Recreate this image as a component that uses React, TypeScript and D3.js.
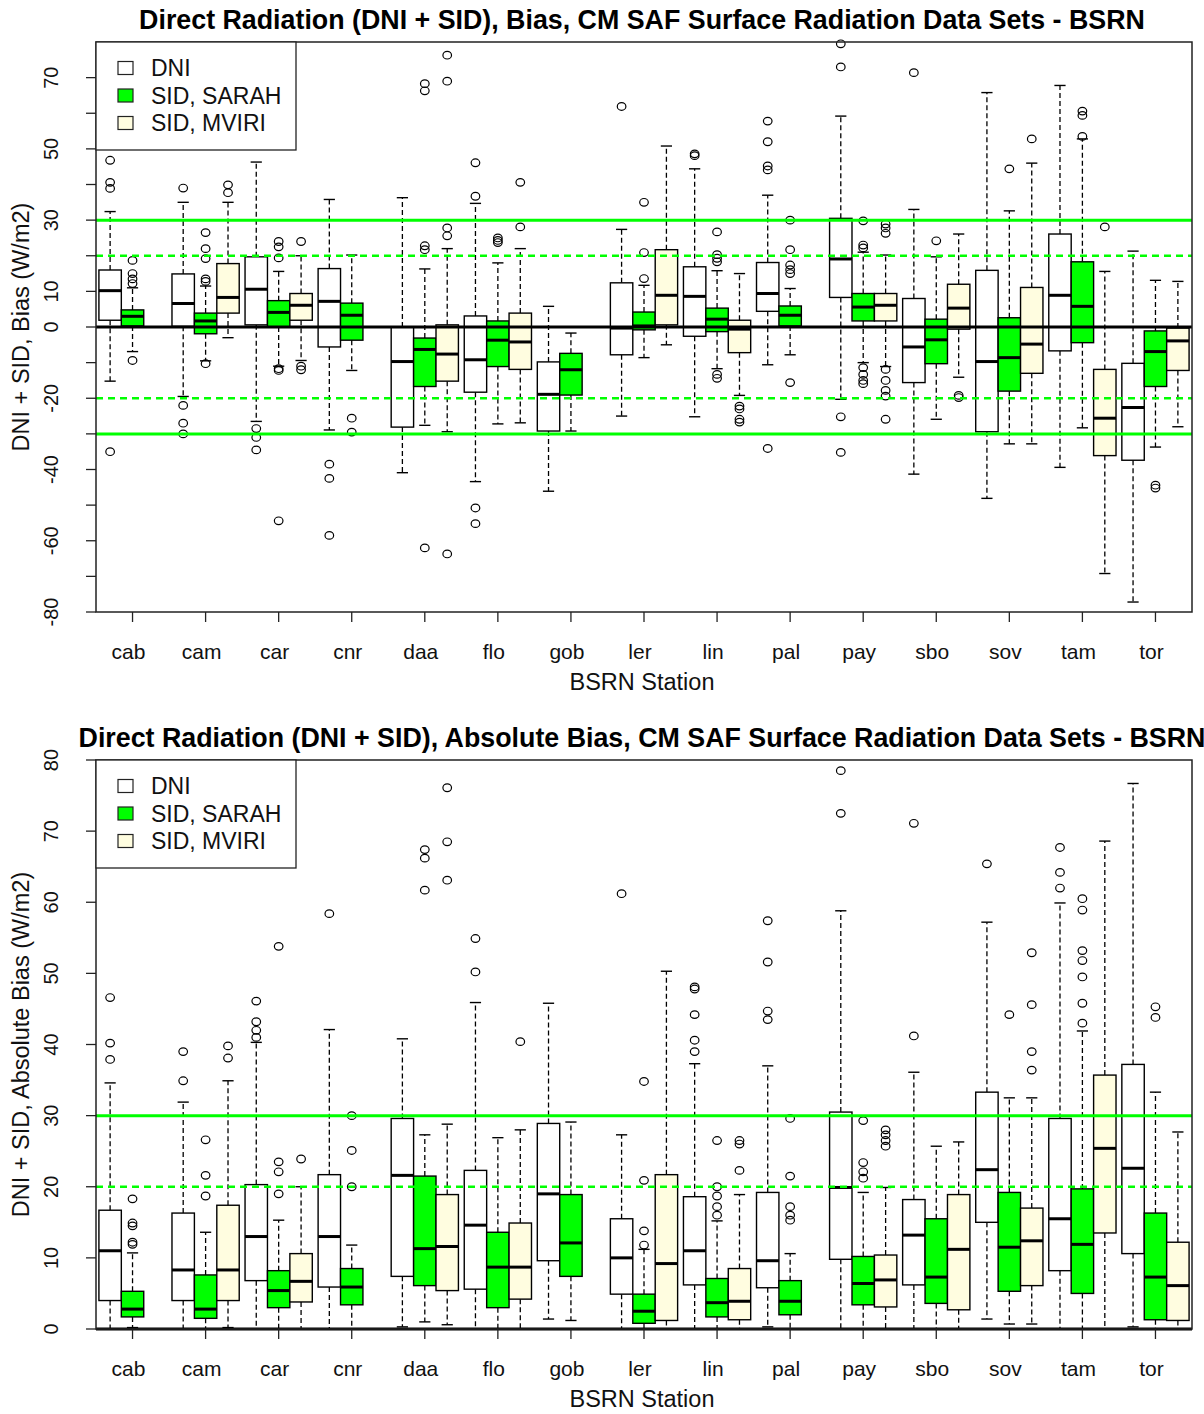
import React, { useEffect, useRef } from "react";
import * as d3 from "d3";

// [lower whisker, q1, median, q3, upper whisker], null = no data
type Box = [number, number, number, number, number] | null;

const stations = ["cab", "cam", "car", "cnr", "daa", "flo", "gob", "ler", "lin", "pal", "pay", "sbo", "sov", "tam", "tor"];
const seriesNames = ["DNI", "SID, SARAH", "SID, MVIRI"];
const seriesFill = ["#ffffff", "#00ff00", "#fffde0"];

// ---- Bias panel ----
const biasDNI: Box[] = [
  [-15.2, 1.9, 10.2, 16, 32.4], [-19.5, 0.2, 6.6, 14.9, 35], [-26.5, 0.6, 10.6, 19.7, 46.3],
  [-28.9, -5.6, 7.2, 16.4, 35.8], [-40.9, -28.1, -9.7, 0, 36.3], [-43.4, -18.3, -9.2, 3.1, 34.7],
  [-46.1, -29.2, -18.9, -9.8, 5.8], [-25, -7.8, -0.3, 12.4, 27.4], [-25.2, -2.6, 8.6, 16.9, 44.4],
  [-10.6, 4.4, 9.4, 18.1, 37], [-20.3, 8.3, 19.1, 30.5, 59.2], [-41.3, -15.6, -5.6, 8, 33],
  [-48.1, -29.4, -9.7, 15.9, 65.8], [-39.4, -6.7, 8.9, 26.1, 67.8], [-77.2, -37.4, -22.6, -10.2, 21.3],
];
const biasDNIOut: number[][] = [
  [46.8, 40.6, 38.9, -35], [39, -22, -27, -30], [-28.5, -31, -34.5],
  [-38.5, -42.5, -58.5], [], [46.1, 36.7, -50.8, -55.2],
  [], [61.9], [48.6, 48.1],
  [57.8, 52, 45.2, 44.1, -34.1], [73, 79.5, -25.2, -35.2], [71.4],
  [], [], [],
];
const biasSARAH: Box[] = [
  [-6.9, 0.3, 3, 4.8, 11], [-9.5, -1.9, 1.7, 3.9, 11.5], [-11, 0, 4.1, 7.4, 15.6],
  [-12.2, -3.7, 3.3, 6.7, 20.2], [-27.6, -16.7, -6.3, -3.1, 16.3], [-27.2, -11.1, -3.7, 1.7, 18],
  [-29.2, -19.1, -12, -7.4, -1.7], [-8.6, -0.8, 0.3, 4.2, 11.7], [-11.7, -1.3, 2.2, 5.3, 15.8],
  [-7.8, 0.3, 3.3, 5.9, 10.8], [-10, 1.7, 5.6, 9.4, 21], [-25.9, -10.3, -3.6, 2.2, 19.7],
  [-32.8, -18, -8.6, 2.6, 32.6], [-28.3, -4.4, 5.8, 18.3, 52.8], [-33.7, -16.7, -6.9, -1.1, 13.1],
];
const biasSARAHOut: number[][] = [
  [18.7, 15, 13.5, 12.2, -9.4], [26.5, 22, 19.2, 13.5, 12.8, -10.3], [24, 22.5, 19.4, -11.7, -12.2, -54.4],
  [-25.6, -29.5], [22.8, 21.7, 68.3, 66.3, -62], [25, 24.3, 23.7],
  [], [13.6, 20.9, 35], [26.7, 20.3, 19.3, 18.3, -13.3, -14.4],
  [30, 21.7, 17.4, 16.1, 15, -15.6], [29.8, 23, 22.2, -11.4, -13.3, -15, -15.9], [24.2],
  [44.4], [53.5, 59.4, 60.6], [-44.4, -45.2],
];
const biasMVIRI: Box[] = [
  null, [-3, 3.9, 8.3, 17.8, 35], [-9.4, 1.9, 6.1, 9.4, 20],
  null, [-29.4, -15.2, -7.6, 0.6, 22], [-26.9, -11.9, -4.2, 3.9, 22],
  null, [-5, 0.6, 8.9, 21.7, 50.8], [-19.2, -7.2, -0.6, 1.9, 15],
  null, [-11.1, 1.7, 6.1, 9.4, 20.2], [-14.1, -0.6, 5.3, 12, 26.1],
  [-32.8, -13, -4.8, 11.1, 46], [-69.2, -36.1, -25.6, -11.9, 15.6], [-28, -12.2, -3.9, -0.3, 12.8],
];
const biasMVIRIOut: number[][] = [
  [], [39.9, 37.7], [24, -11, -12],
  [], [27.8, 25.6, 76.3, 69, -63.7], [28.1, 40.6],
  [], [], [-22.2, -23, -25.9, -26.7],
  [], [28.9, 27.8, 26.3, -11.9, -15, -17.8, -19.4, -25.9], [-19.2, -19.8],
  [52.8], [28.1], [],
];

// ---- Absolute bias panel ----
const absDNI: Box[] = [
  [0, 4, 11, 16.7, 34.6], [0, 4, 8.3, 16.3, 31.9], [0, 6.8, 13, 20.3, 40.3],
  [0, 5.9, 13, 21.7, 42.1], [0.3, 7.4, 21.6, 29.6, 40.8], [0, 5.6, 14.6, 22.3, 45.9],
  [1.4, 9.6, 19, 28.9, 45.8], [0, 4.9, 10, 15.5, 27.3], [0, 6.2, 11, 18.6, 37.3],
  [0.3, 5.8, 9.6, 19.2, 37], [0, 9.8, 19.9, 30.5, 58.8], [0, 6.2, 13.2, 18.2, 36.1],
  [1.4, 15, 22.4, 33.3, 57.2], [0, 8.2, 15.5, 29.6, 59.9], [0.3, 10.6, 22.6, 37.2, 76.7],
];
const absDNIOut: number[][] = [
  [46.6, 40.2, 37.9], [39, 34.9], [46.1, 43.2, 42, 41],
  [58.4], [], [50.2, 54.9],
  [], [61.2], [39, 40.6, 44.2, 47.8, 48.1],
  [43.5, 44.7, 51.6, 57.4], [72.5, 78.5], [41.2, 71.1],
  [65.4], [62, 64.2, 67.7], [],
];
const absSARAH: Box[] = [
  [0.2, 1.7, 2.8, 5.3, 10.7], [0, 1.5, 2.8, 7.6, 13.6], [0, 3, 5.4, 8.2, 15.3],
  [0, 3.4, 5.9, 8.5, 11.8], [1, 6.1, 11.3, 21.5, 27.3], [0, 3, 8.7, 13.6, 26.9],
  [1.2, 7.4, 12.1, 18.9, 29.1], [0, 0.8, 2.5, 4.9, 11.2], [0, 1.7, 3.7, 7.1, 15.2],
  [0, 2, 3.9, 6.8, 10.6], [0, 3.4, 6.4, 10.2, 19.2], [0, 3.6, 7.3, 15.5, 25.7],
  [0.7, 5.3, 11.5, 19.2, 32.5], [0, 5, 11.9, 19.7, 41.9], [0, 1.3, 7.3, 16.3, 33.3],
];
const absSARAHOut: number[][] = [
  [18.3, 14.9, 14.5, 12.2, 11.9], [18.7, 21.6, 26.6], [19, 22.1, 23.5, 53.8],
  [20, 25.1, 30], [61.7, 66.2, 67.4], [],
  [], [11.8, 13.8, 20.9, 34.8], [16, 17.2, 18.7, 20, 26.5],
  [15.3, 16, 17.2, 21.5, 29.6], [21.2, 22.1, 23.4, 29.3], [],
  [44.2], [43, 45.8, 49.5, 51.8, 53.2, 58.9, 60.5], [45.3, 43.8],
];
const absMVIRI: Box[] = [
  null, [0.2, 4, 8.3, 17.4, 34.9], [0, 3.8, 6.7, 10.6, 20],
  null, [0.6, 5.4, 11.6, 18.9, 28.8], [0, 4.2, 8.7, 14.9, 28],
  null, [0, 1.2, 9.2, 21.7, 50.3], [0, 1.3, 3.9, 8.5, 18.9],
  null, [0, 3.1, 6.9, 10.4, 19.9], [0, 2.7, 11.2, 18.9, 26.3],
  [0.7, 6.1, 12.4, 17, 32.5], [0, 13.5, 25.4, 35.7, 68.6], [0, 1.2, 6.1, 12.2, 27.7],
];
const absMVIRIOut: number[][] = [
  [], [39.8, 38.1], [23.9],
  [], [63.1, 68.5, 76.1], [40.4],
  [], [], [22.3, 26, 26.5],
  [], [25.7, 26.5, 27.3, 28], [],
  [36.4, 39, 45.6, 52.9], [], [],
];

const biasTicks = d3.range(-80, 71, 10);
const biasTickLabels = [70, 50, 30, 10, 0, -20, -40, -60, -80];
const absTicks = d3.range(0, 81, 10);

const LEFT = 96;
const RIGHT = 1192;
const FONT = "'Liberation Sans', Arial, Helvetica, sans-serif";

const panels = [
  {
    title: "Direct Radiation (DNI + SID), Bias, CM SAF Surface Radiation Data Sets - BSRN",
    ylab: "DNI + SID, Bias (W/m2)",
    top: 42, bottom: 612, domain: [-80, 80],
    ticks: biasTicks, labels: biasTickLabels,
    solid: [30, -30], dashed: [20, -20],
    boxes: [biasDNI, biasSARAH, biasMVIRI],
    outliers: [biasDNIOut, biasSARAHOut, biasMVIRIOut],
  },
  {
    title: "Direct Radiation (DNI + SID), Absolute Bias, CM SAF Surface Radiation Data Sets - BSRN",
    ylab: "DNI + SID, Absolute Bias (W/m2)",
    top: 760, bottom: 1329, domain: [0, 80],
    ticks: absTicks, labels: absTicks,
    solid: [30], dashed: [20],
    boxes: [absDNI, absSARAH, absMVIRI],
    outliers: [absDNIOut, absSARAHOut, absMVIRIOut],
  },
];

function drawPanel(g: d3.Selection<SVGGElement, unknown, null, undefined>, p: typeof panels[number]) {
  const x = d3.scaleBand<string>().domain(stations).range([LEFT, RIGHT]);
  const sub = d3.scaleBand<string>().domain(seriesNames).range([0, x.bandwidth()]).paddingOuter(0.13);
  const y = d3.scaleLinear().domain(p.domain).range([p.bottom, p.top]);
  const bw = sub.bandwidth();
  const midX = (LEFT + RIGHT) / 2;

  // title
  g.append("text")
    .attr("x", midX - 2).attr("y", p.top - 13)
    .attr("text-anchor", "middle")
    .style("font", `bold 26.8px ${FONT}`)
    .text(p.title);

  // boxes
  p.boxes.forEach((series, si) => {
    series.forEach((b, i) => {
      const cx = x(stations[i])! + sub(seriesNames[si])! + bw / 2;
      const bg = g.append("g");
      if (b) {
        const [lo, q1, med, q3, hi] = b;
        bg.selectAll("line.wh")
          .data([[q3, hi], [q1, lo]])
          .enter().append("line")
          .attr("x1", cx).attr("x2", cx)
          .attr("y1", d => y(d[0])).attr("y2", d => y(d[1]))
          .attr("stroke", "#000").attr("stroke-width", 1.3)
          .attr("stroke-dasharray", "5,3");
        bg.selectAll("line.cap")
          .data([hi, lo])
          .enter().append("line")
          .attr("x1", cx - bw / 4).attr("x2", cx + bw / 4)
          .attr("y1", d => y(d)).attr("y2", d => y(d))
          .attr("stroke", "#000").attr("stroke-width", 1.4);
        bg.append("rect")
          .attr("x", cx - bw / 2).attr("y", y(q3))
          .attr("width", bw).attr("height", y(q1) - y(q3))
          .attr("fill", seriesFill[si])
          .attr("stroke", "#000").attr("stroke-width", 1.4);
        bg.append("line")
          .attr("x1", cx - bw / 2).attr("x2", cx + bw / 2)
          .attr("y1", y(med)).attr("y2", y(med))
          .attr("stroke", "#000").attr("stroke-width", 3);
      }
      bg.selectAll("ellipse")
        .data(p.outliers[si][i])
        .enter().append("ellipse")
        .attr("cx", cx).attr("cy", d => y(d)).attr("rx", 4.3).attr("ry", 3.8)
        .attr("fill", "none").attr("stroke", "#000").attr("stroke-width", 1.2);
    });
  });

  // reference lines
  const hline = (v: number, color: string, w: number, dash?: string) =>
    g.append("line")
      .attr("x1", LEFT).attr("x2", RIGHT)
      .attr("y1", y(v)).attr("y2", y(v))
      .attr("stroke", color).attr("stroke-width", w)
      .attr("stroke-dasharray", dash ?? null);
  p.solid.forEach(v => hline(v, "#00ff00", 3));
  p.dashed.forEach(v => hline(v, "#00ff00", 2.5, "7,5"));
  hline(0, "#000", 3);

  // frame
  g.append("rect")
    .attr("x", LEFT).attr("y", p.top)
    .attr("width", RIGHT - LEFT).attr("height", p.bottom - p.top)
    .attr("fill", "none").attr("stroke", "#222").attr("stroke-width", 1.5);

  // y axis
  g.selectAll("line.yt")
    .data(p.ticks)
    .enter().append("line")
    .attr("x1", LEFT - 10).attr("x2", LEFT)
    .attr("y1", d => y(d)).attr("y2", d => y(d))
    .attr("stroke", "#222").attr("stroke-width", 1.3);
  g.selectAll("text.yl")
    .data(p.labels)
    .enter().append("text")
    .attr("transform", d => `translate(51,${y(d)}) rotate(-90)`)
    .attr("text-anchor", "middle")
    .attr("dominant-baseline", "central")
    .style("font", `20px ${FONT}`)
    .attr("fill", "#111")
    .text(d => String(d));
  g.append("text")
    .attr("transform", `translate(21,${(p.top + p.bottom) / 2}) rotate(-90)`)
    .attr("text-anchor", "middle")
    .attr("dominant-baseline", "central")
    .style("font", `23.5px ${FONT}`)
    .attr("fill", "#111")
    .text(p.ylab);

  // x axis
  g.selectAll("line.xt")
    .data(stations)
    .enter().append("line")
    .attr("x1", d => x(d)! + x.bandwidth() / 2).attr("x2", d => x(d)! + x.bandwidth() / 2)
    .attr("y1", p.bottom).attr("y2", p.bottom + 10)
    .attr("stroke", "#222").attr("stroke-width", 1.3);
  g.selectAll("text.xl")
    .data(stations)
    .enter().append("text")
    .attr("x", d => x(d)! + x.bandwidth() / 2 - 4)
    .attr("y", p.bottom + 47)
    .attr("text-anchor", "middle")
    .style("font", `21px ${FONT}`)
    .attr("fill", "#111")
    .text(d => d);
  g.append("text")
    .attr("x", midX - 2).attr("y", p.bottom + 78)
    .attr("text-anchor", "middle")
    .style("font", `23.5px ${FONT}`)
    .attr("fill", "#111")
    .text("BSRN Station");

  // legend
  const lg = g.append("g").attr("transform", `translate(${LEFT},${p.top})`);
  lg.append("rect")
    .attr("width", 200).attr("height", 108)
    .attr("fill", "#fff").attr("stroke", "#222").attr("stroke-width", 1.3);
  seriesNames.forEach((name, i) => {
    const cy = 26 + i * 27.5;
    lg.append("rect")
      .attr("x", 22).attr("y", cy - 6.5)
      .attr("width", 15).attr("height", 13)
      .attr("fill", seriesFill[i]).attr("stroke", "#222").attr("stroke-width", 1.2);
    lg.append("text")
      .attr("x", 55).attr("y", cy + 8)
      .style("font", `23px ${FONT}`)
      .attr("fill", "#111")
      .text(name);
  });
}

export default function App() {
  const ref = useRef<SVGSVGElement>(null);

  useEffect(() => {
    const svg = d3.select(ref.current);
    svg.selectAll("*").remove();
    panels.forEach(p => drawPanel(svg.append("g"), p));
  }, []);

  return (
    <svg
      ref={ref}
      width={1204}
      height={1414}
      style={{ position: "absolute", left: 0, top: 0, background: "#fff" }}
    />
  );
}
